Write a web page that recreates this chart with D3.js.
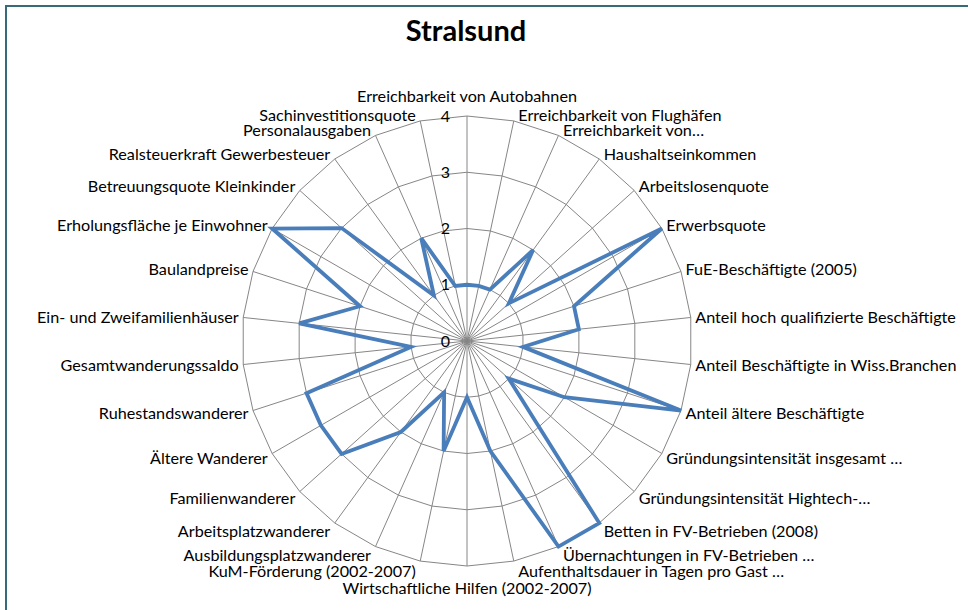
<!DOCTYPE html>
<html>
<head>
<meta charset="utf-8">
<script src="https://cdn.jsdelivr.net/npm/d3@7"></script>
<style>
  html, body { margin: 0; padding: 0; background: #fff; }
  svg { display: block; }
  text { font-family: Lato, "Open Sans", sans-serif; fill: #000; }
</style>
</head>
<body>
<svg id="chart" width="968" height="610"></svg>
<script>
const title = "Stralsund";
const categories = [
  "Erreichbarkeit von Autobahnen",
  "Erreichbarkeit von Flughäfen",
  "Erreichbarkeit von…",
  "Haushaltseinkommen",
  "Arbeitslosenquote",
  "Erwerbsquote",
  "FuE-Beschäftigte (2005)",
  "Anteil hoch qualifizierte Beschäftigte",
  "Anteil Beschäftigte in Wiss.Branchen",
  "Anteil ältere Beschäftigte",
  "Gründungsintensität insgesamt …",
  "Gründungsintensität Hightech-…",
  "Betten in FV-Betrieben (2008)",
  "Übernachtungen in FV-Betrieben …",
  "Aufenthaltsdauer in Tagen pro Gast …",
  "Wirtschaftliche Hilfen (2002-2007)",
  "KuM-Förderung (2002-2007)",
  "Ausbildungsplatzwanderer",
  "Arbeitsplatzwanderer",
  "Familienwanderer",
  "Ältere Wanderer",
  "Ruhestandswanderer",
  "Gesamtwanderungssaldo",
  "Ein- und Zweifamilienhäuser",
  "Baulandpreise",
  "Erholungsfläche je Einwohner",
  "Betreuungsquote Kleinkinder",
  "Realsteuerkraft Gewerbesteuer",
  "Personalausgaben",
  "Sachinvestitionsquote"
];
const values = [1,1,1,2,1,4,2,2,1,4,2,1,4,4,2,1,2,1,2,3,3,3,1,3,2,4,3,1,2,1];
const ticks = [0,1,2,3,4];

const svg = d3.select("#chart");
const cx = 467, cy = 341, R = 225;

// frame (top and left edges visible)
svg.append("rect").attr("x", 6).attr("y", 6).attr("width", 1200).attr("height", 1200)
  .attr("fill", "none").attr("stroke", "#386a7a").attr("stroke-width", 2);

svg.append("text").attr("x", 466).attr("y", 41).attr("text-anchor", "middle")
  .style("font-family", "Lato, sans-serif").style("font-weight", "bold").style("font-size", "29px")
  .text(title);

const r = d3.scaleLinear().domain([0, 4]).range([0, R]);
const angle = d3.scaleLinear().domain([0, categories.length]).range([0, 2 * Math.PI]);

const g = svg.append("g").attr("transform", `translate(${cx},${cy})`);

// rings
ticks.filter(t => t > 0).forEach(t => {
  const pts = categories.map((c, i) => [r(t) * Math.sin(angle(i)), -r(t) * Math.cos(angle(i))]);
  g.append("path").attr("d", d3.line().curve(d3.curveLinearClosed)(pts))
    .attr("fill", "none").attr("stroke", "#868686").attr("stroke-width", 1);
});
// spokes
g.selectAll("line.spoke").data(categories).join("line").attr("class", "spoke")
  .attr("x1", 0).attr("y1", 0)
  .attr("x2", (d, i) => R * Math.sin(angle(i)))
  .attr("y2", (d, i) => -R * Math.cos(angle(i)))
  .attr("stroke", "#868686").attr("stroke-width", 1);

// tick labels
g.selectAll("text.tick").data(ticks).join("text").attr("class", "tick")
  .attr("x", -17).attr("y", d => -r(d)).attr("dy", "0.35em")
  .attr("text-anchor", "end").style("font-size", "16px").text(d => d);

// series
const line = d3.lineRadial().angle((d, i) => angle(i)).radius(d => r(d)).curve(d3.curveLinearClosed);
g.append("path").datum(values).attr("d", line)
  .attr("fill", "none").attr("stroke", "#4a7ebb").attr("stroke-width", 3.8).attr("stroke-linejoin", "miter");

// category labels
g.selectAll("text.cat").data(categories).join("text").attr("class", "cat")
  .style("font-size", "16.2px")
  .each(function(d, i) {
    const a = angle(i), s = Math.sin(a), c = Math.cos(a);
    const tx = R * s, ty = -R * c;
    const el = d3.select(this);
    if (Math.abs(s) < 1e-6) {
      el.attr("text-anchor", "middle").attr("x", 0)
        .attr("y", c > 0 ? ty - 20 : ty + 22).attr("dy", "0.35em");
    } else {
      const off = c > 0 ? 6 : 10;
      el.attr("text-anchor", s > 0 ? "start" : "end")
        .attr("x", tx + (s > 0 ? 4.5 : -4.5))
        .attr("y", ty - c * off).attr("dy", "0.35em");
    }
    el.text(d);
  });
</script>
</body>
</html>
